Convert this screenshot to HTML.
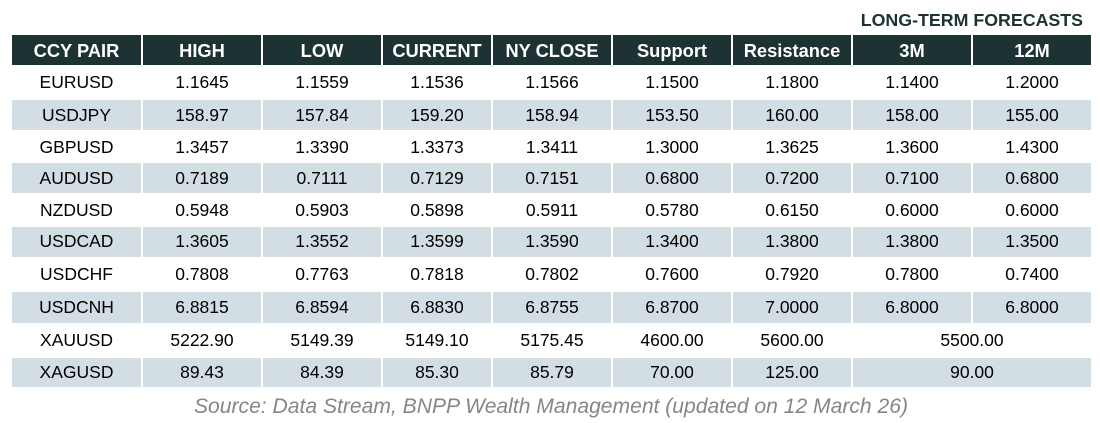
<!DOCTYPE html>
<html><head><meta charset="utf-8"><style>
html,body{margin:0;padding:0;background:#fff;}
body{width:1100px;height:423px;position:relative;overflow:hidden;font-family:"Liberation Sans",Arial,sans-serif;}
.t{position:absolute;right:17px;top:11.6px;font-size:17.8px;line-height:17.8px;font-weight:bold;color:#1d3232;white-space:nowrap;}
.c{position:absolute;text-align:center;white-space:nowrap;color:#000;font-size:17.5px;}
.h{background:#1d3232;color:#fff;font-weight:bold;font-size:18.3px;}
.s{background:#d2dee4;}
.src{position:absolute;left:0;width:1102px;top:395.5px;text-align:center;font-size:21.1px;line-height:21px;font-style:italic;color:#868686;white-space:nowrap;}
</style></head><body>
<div class="t">LONG-TERM FORECASTS</div>
<div id="tbl"></div>
<div class="src">Source: Data Stream, BNPP Wealth Management (updated on 12 March 26)</div>
<script>
var L=[12,143,263,383,493,613,733,853,973];
var W=[129,118,118,108,118,118,118,118,118];
var rows=[
[35,30,["CCY PAIR","HIGH","LOW","CURRENT","NY CLOSE","Support","Resistance","3M","12M"]],
[67,30,["EURUSD","1.1645","1.1559","1.1536","1.1566","1.1500","1.1800","1.1400","1.2000"]],
[99.5,30,["USDJPY","158.97","157.84","159.20","158.94","153.50","160.00","158.00","155.00"]],
[131.5,30,["GBPUSD","1.3457","1.3390","1.3373","1.3411","1.3000","1.3625","1.3600","1.4300"]],
[163,30,["AUDUSD","0.7189","0.7111","0.7129","0.7151","0.6800","0.7200","0.7100","0.6800"]],
[195,30.5,["NZDUSD","0.5948","0.5903","0.5898","0.5911","0.5780","0.6150","0.6000","0.6000"]],
[227.3,29.5,["USDCAD","1.3605","1.3552","1.3599","1.3590","1.3400","1.3800","1.3800","1.3500"]],
[259,31,["USDCHF","0.7808","0.7763","0.7818","0.7802","0.7600","0.7920","0.7800","0.7400"]],
[292,30.7,["USDCNH","6.8815","6.8594","6.8830","6.8755","6.8700","7.0000","6.8000","6.8000"]],
[325,31,["XAUUSD","5222.90","5149.39","5149.10","5175.45","4600.00","5600.00","5500.00"]],
[358.3,28.7,["XAGUSD","89.43","84.39","85.30","85.79","70.00","125.00","90.00"]]
];
var out="";
rows.forEach(function(r,i){
  var cls = i==0?"c h":(i%2==0?"c s":"c");
  var cells=r[2];
  for(var j=0;j<cells.length;j++){
    var left=L[j], w=W[j];
    if(cells.length==8 && j==7){ w=L[8]+W[8]-L[7]; }
    var lh=r[1];
    var pad = i==0?"padding-top:1px;height:"+(r[1]-1)+"px;line-height:"+(r[1]-1)+"px;":"height:"+r[1]+"px;line-height:"+r[1]+"px;";
    out+='<div class="'+cls+'" style="left:'+left+'px;top:'+r[0]+'px;width:'+w+'px;'+pad+'">'+cells[j]+'</div>';
  }
});
document.getElementById("tbl").innerHTML=out;
</script>
</body></html>
